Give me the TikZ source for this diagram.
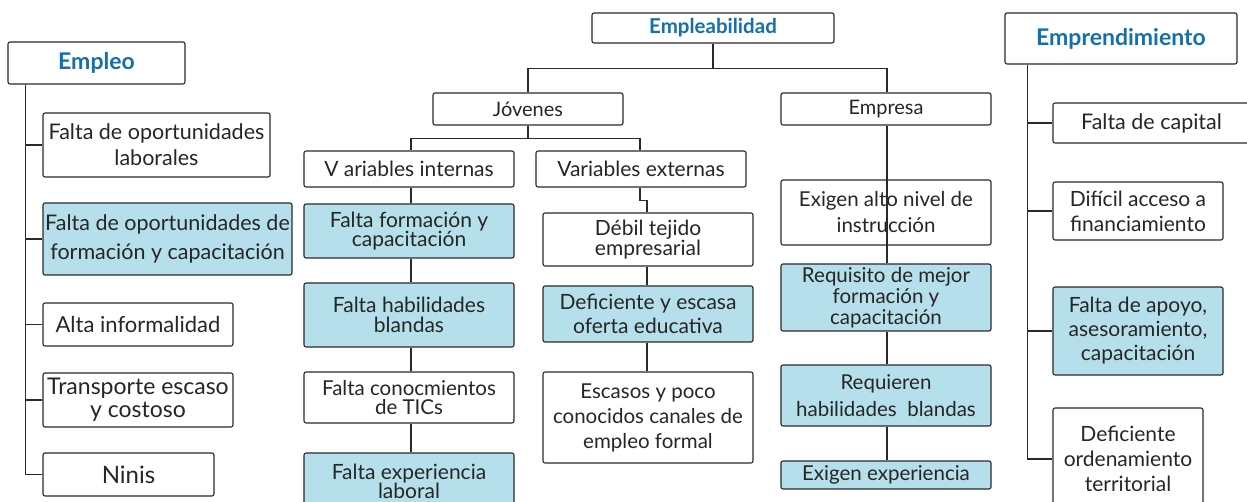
\documentclass[tikz,border=0pt]{standalone}
\usepackage{fontspec}
\setmainfont{Lato}
\definecolor{linec}{HTML}{2A2A2A}
\definecolor{txt}{HTML}{262626}
\definecolor{lblue}{HTML}{B5DFEA}
\definecolor{tblue}{HTML}{1470AD}
\begin{document}
\begin{tikzpicture}[x=1pt,y=-1pt,
  bx/.style={draw=linec, line width=1.1pt, rounded corners=2pt, fill=white, inner sep=0pt, align=center, text=txt, font=\fontsize{21}{23}\selectfont},
  bl/.style={bx, fill=lblue},
  ttl/.style={bx, text=tblue, font=\fontsize{23}{26}\selectfont\bfseries},
  sz/.style 2 args={minimum width=#1pt, minimum height=#2pt},
  ld/.style 2 args={font=\fontsize{#1}{#2}\selectfont},
  ln/.style={draw=linec, line width=1.1pt}]
\useasboundingbox (0,0) rectangle (1247,502);
\clip (0,0) rectangle (1247,502);
% left column
\node[ttl, sz={177}{42}] (em) at (96.5,63) {Empleo};
\node[bx, sz={227}{64}, ld={21.5}{26}] (e1) at (156.5,145) {Falta de oportunidades\\laborales};
\node[bl, sz={249}{72}, ld={21.5}{29}] (e2) at (167.5,239) {Falta de oportunidades de\\formación y capacitación};
\node[bx, sz={190}{43}, ld={22}{24}] (e3) at (138,324.5) {Alta informalidad};
\node[bx, sz={190}{54}, ld={23}{23}] (e4) at (138,400) {Transporte escaso\\y costoso};
\node[bx, sz={171}{43}, ld={24}{24}] (e5) at (128.5,474.5) {Ninis};
% middle
\node[ttl, sz={242}{30}, font=\fontsize{20.5}{22}\selectfont\bfseries] (emp) at (713,28) {Empleabilidad};
\node[bx, sz={190}{32}, ld={20}{22}] (jov) at (528,109) {Jóvenes};
\node[bx, sz={210}{36}] (vi) at (409,169) {V ariables internas};
\node[bx, sz={210}{36}] (ve) at (641,169) {Variables externas};
\node[bl, sz={210}{54}, ld={21}{19.5}] (i1) at (409,231) {Falta formación y\\capacitación};
\node[bl, sz={210}{64}, ld={21}{20}] (i2) at (409,315) {Falta habilidades\\blandas};
\node[bx, sz={210}{51}, ld={20.5}{19.5}] (i3) at (409,397.5) {Falta conocmientos\\de TICs};
\node[bl, sz={210}{57}, ld={21}{19.5}] (i4) at (409,481.5) {Falta experiencia\\laboral};
\node[bx, sz={210}{53}, ld={21}{19.5}] (x1) at (648,239.5) {Débil tejido\\empresarial};
\node[bl, sz={210}{56}, ld={21}{24}] (x2) at (648,314) {Deficiente y escasa\\oferta educativa};
\node[bx, sz={210}{91}, ld={20.5}{25}] (x3) at (648,417.5) {Escasos y poco\\conocidos canales de\\empleo formal};
\node[bx, sz={210}{32}, ld={20}{22}] (emr) at (886,109) {Empresa};
\node[bx, sz={210}{65}, ld={20.5}{26}] (r1) at (886,212.5) {Exigen alto nivel de\\instrucción};
\node[bl, sz={210}{67}, ld={20.5}{21}] (r2) at (886,297.5) {Requisito de mejor\\formación y\\capacitación};
\node[bl, sz={210}{61}, ld={20.5}{27}] (r3) at (886,395.5) {Requieren\\habilidades\ \ blandas};
\node[bl, sz={210}{28}, ld={20.5}{22}] (r4) at (886,475) {Exigen experiencia};
% right
\node[ttl, sz={232}{51}] (epr) at (1121,38.5) {Emprendimiento};
\node[bx, sz={197}{40}, ld={21.5}{24}] (p1) at (1151.5,123) {Falta de capital};
\node[bx, sz={170}{58}, ld={21}{25}] (p2) at (1138,211) {Difícil acceso a\\financiamiento};
\node[bl, sz={170}{88}, ld={21}{24}] (p3) at (1138,331) {Falta de apoyo,\\asesoramiento,\\capacitación};
\node[bx, sz={150}{102}, ld={21}{25}] (p4) at (1128,459) {Deficiente\\ordenamiento\\territorial};
% connectors left
\foreach \t in {e1,e2,e3,e4,e5} \draw[ln] ([xshift=18pt]em.south west) |- (\t.west);
% connectors right
\foreach \t in {p1,p2,p3,p4} \draw[ln] ([xshift=23pt]epr.south west) |- (\t.west);
% empleabilidad tree
\draw[ln] (emp.south) -- ++(0,25) -| (jov.north);
\draw[ln] (emp.south) -- ++(0,25) -| ([xshift=1pt]emr.north);
\draw[ln] (jov.south) -- ++(0,13) -| ([xshift=2pt]vi.north);
\draw[ln] (jov.south) -- ++(0,13) -| ([xshift=-1pt]ve.north);
\draw[ln] ([xshift=2pt]vi.south) -- ([xshift=2pt]i1.north);
\draw[ln] ([xshift=2pt]i1.south) -- ([xshift=2pt]i2.north);
\draw[ln] ([xshift=2pt]i2.south) -- ([xshift=2pt]i3.north);
\draw[ln] ([xshift=2pt]i3.south) -- ([xshift=2pt]i4.north);
\draw[ln] ([xshift=-1pt]ve.south) -- ++(0,13) -| ([xshift=-1pt]x1.north);
\draw[ln] ([xshift=-1pt]x1.south) -- ([xshift=-1pt]x2.north);
\draw[ln] ([xshift=-1pt]x2.south) -- ([xshift=-1pt]x3.north);
\draw[ln] ([xshift=1pt]emr.south) -- ([xshift=1pt]r2.north);
\draw[ln] ([xshift=1pt]r2.south) -- ([xshift=1pt]r3.north);
\draw[ln] ([xshift=1pt]r3.south) -- ([xshift=1pt]r4.north);
\end{tikzpicture}
\end{document}
